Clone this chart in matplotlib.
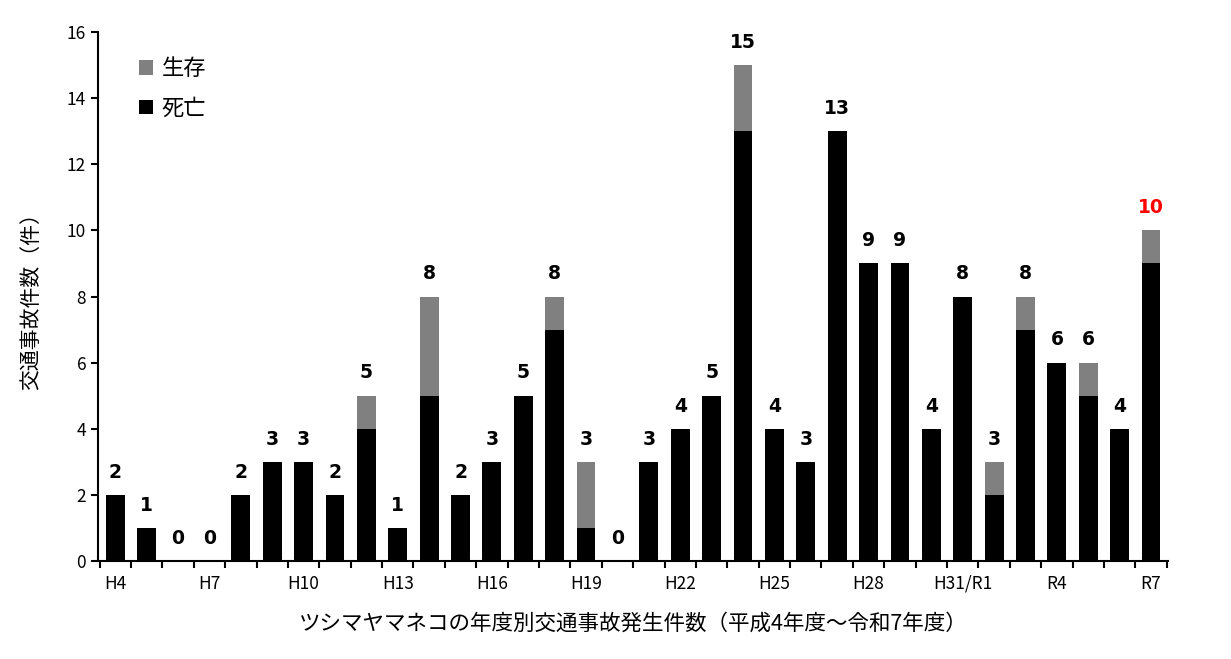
import numpy as np
import matplotlib
matplotlib.use('Agg')
import matplotlib.pyplot as plt

plt.rcParams['font.family'] = ['Noto Sans CJK JP', 'DejaVu Sans']

# 年度 (H4 .. R7)
years = ['H4', 'H5', 'H6', 'H7', 'H8', 'H9', 'H10', 'H11', 'H12', 'H13', 'H14',
         'H15', 'H16', 'H17', 'H18', 'H19', 'H20', 'H21', 'H22', 'H23', 'H24',
         'H25', 'H26', 'H27', 'H28', 'H29', 'H30', 'H31/R1', 'R2', 'R3', 'R4',
         'R5', 'R6', 'R7']
dead = [2, 1, 0, 0, 2, 3, 3, 2, 4, 1, 5, 2, 3, 5, 7, 1, 0, 3, 4, 5, 13,
        4, 3, 13, 9, 9, 4, 8, 2, 7, 6, 5, 4, 9]
alive = [0, 0, 0, 0, 0, 0, 0, 0, 1, 0, 3, 0, 0, 0, 1, 2, 0, 0, 0, 0, 2,
         0, 0, 0, 0, 0, 0, 0, 1, 1, 0, 1, 0, 1]
shown_ticks = ['H4', 'H7', 'H10', 'H13', 'H16', 'H19', 'H22', 'H25', 'H28',
               'H31/R1', 'R4', 'R7']

dead = np.array(dead)
alive = np.array(alive)
total = dead + alive
x = np.arange(len(years))

fig = plt.figure(figsize=(12.31, 6.59), dpi=100)
ax = fig.add_axes([0.0796, 0.1487, 0.8695, 0.8027])

ax.bar(x, dead, width=0.6, color='black', label='死亡')
ax.bar(x, alive, width=0.6, bottom=dead, color='#808080', label='生存')

for i, t in enumerate(total):
    col = 'red' if i == len(total) - 1 else 'black'
    ax.text(x[i], t + 0.4, str(t), ha='center', va='bottom',
            fontsize=13.5, fontweight='bold', color=col, family='DejaVu Sans')

ax.set_xlim(-0.55, len(years) - 0.45)
ax.set_ylim(0, 16)
ax.set_yticks(range(0, 17, 2))
ax.tick_params(axis='y', labelsize=12.5, length=5, width=1.5, direction='out')

pos = [years.index(s) for s in shown_ticks]
ax.set_xticks(pos)
ax.set_xticklabels(shown_ticks, fontsize=12.5)
ax.tick_params(axis='x', length=0, pad=10)
ax.set_xticks(np.arange(-0.5, len(years), 1.0), minor=True)
ax.tick_params(axis='x', which='minor', length=5, width=1.5, direction='out')

for s in ['top', 'right']:
    ax.spines[s].set_visible(False)
for s in ['left', 'bottom']:
    ax.spines[s].set_linewidth(1.5)

ax.set_ylabel('交通事故件数（件）', fontsize=15, labelpad=18)
ax.set_xlabel('ツシマヤマネコの年度別交通事故発生件数（平成4年度～令和7年度）',
              fontsize=15.5, labelpad=14)

h, l = ax.get_legend_handles_labels()
ax.legend(h[::-1], l[::-1], loc='upper left', frameon=False, fontsize=16,
          handlelength=0.6, handleheight=0.6, handletextpad=0.4,
          labelspacing=0.75, bbox_to_anchor=(0.02, 0.99))

fig.savefig('out.png', dpi=100)
